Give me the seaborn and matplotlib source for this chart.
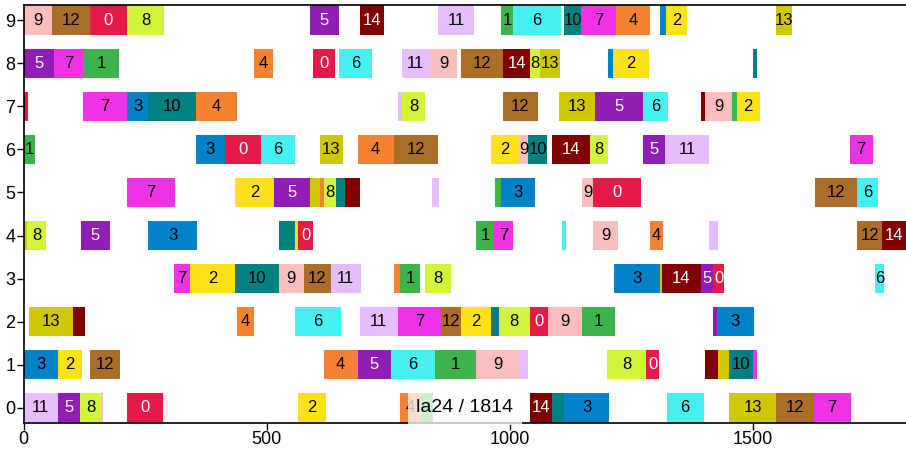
import matplotlib
matplotlib.use("Agg")
import matplotlib.pyplot as plt
import seaborn as sns
import pandas as pd

instance = "la24"
makespan = 1814

# couleurs des jobs 0..14
job_colors = ["#e6194b", "#3cb44b", "#ffe119", "#0082c8", "#f58231",
              "#911eb4", "#46f0f0", "#f032e6", "#d2f53c", "#fabebe",
              "#008080", "#e6beff", "#aa6e28", "#cfc700", "#800000"]
white_text_jobs = [0, 5, 14]

# (job, debut, fin) pour chaque machine
m0 = [(11, 0, 70), (5, 70, 116), (8, 116, 160), (9, 160, 164), (0, 213, 287),
      (2, 565, 622), (4, 773, 818), (1, 818, 841), (14, 1041, 1086), (10, 1086, 1111),
      (3, 1111, 1204), (6, 1322, 1398), (13, 1451, 1546), (12, 1546, 1624), (7, 1624, 1700)]
m1 = [(3, 0, 70), (2, 70, 121), (12, 137, 199), (4, 617, 687), (5, 687, 756),
      (6, 756, 845), (1, 845, 931), (9, 931, 1018), (11, 1018, 1038), (8, 1199, 1280),
      (0, 1280, 1306), (14, 1400, 1427), (13, 1427, 1451), (10, 1451, 1499), (7, 1499, 1507)]
m2 = [(13, 12, 102), (14, 102, 127), (4, 438, 474), (6, 559, 652), (11, 691, 769),
      (7, 769, 859), (12, 859, 900), (2, 900, 961), (10, 961, 977), (8, 977, 1041),
      (0, 1041, 1078), (9, 1078, 1148), (1, 1148, 1216), (5, 1418, 1425), (3, 1425, 1501)]
m3 = [(7, 309, 342), (2, 342, 435), (10, 435, 525), (9, 525, 576), (12, 576, 632),
      (11, 632, 693), (4, 761, 773), (1, 773, 816), (8, 826, 878), (3, 1213, 1308),
      (13, 1308, 1312), (14, 1312, 1392), (5, 1392, 1418), (0, 1418, 1440), (6, 1751, 1768)]
m4 = [(13, 0, 8), (8, 8, 47), (5, 118, 178), (3, 256, 357), (10, 525, 558),
      (2, 558, 564), (0, 564, 596), (1, 931, 968), (7, 968, 1007), (6, 1107, 1115),
      (9, 1171, 1223), (4, 1288, 1315), (11, 1409, 1427), (12, 1714, 1765), (14, 1765, 1814)]
m5 = [(7, 213, 312), (2, 435, 514), (5, 514, 588), (13, 588, 609), (4, 609, 617),
      (8, 617, 642), (10, 642, 660), (14, 660, 691), (11, 839, 855), (1, 969, 982),
      (3, 982, 1052), (9, 1148, 1171), (0, 1171, 1269), (12, 1626, 1714), (6, 1714, 1756)]
m6 = [(1, 0, 23), (3, 354, 414), (0, 414, 488), (6, 488, 559), (13, 609, 656),
      (4, 687, 761), (12, 761, 853), (2, 961, 1019), (9, 1019, 1038), (10, 1038, 1076),
      (14, 1086, 1165), (8, 1165, 1201), (5, 1274, 1319), (11, 1319, 1409), (7, 1698, 1746)]
m7 = [(0, 0, 9), (7, 123, 213), (3, 213, 256), (10, 256, 354), (4, 354, 438),
      (11, 769, 778), (8, 778, 826), (12, 985, 1058), (13, 1101, 1174), (5, 1174, 1274),
      (6, 1274, 1325), (14, 1392, 1400), (9, 1400, 1457), (1, 1457, 1466), (2, 1466, 1513)]
m8 = [(5, 0, 62), (7, 62, 123), (1, 123, 197), (4, 474, 513), (0, 596, 640),
      (6, 649, 717), (11, 778, 835), (9, 835, 892), (12, 900, 986), (14, 986, 1041),
      (8, 1041, 1062), (13, 1062, 1103), (3, 1201, 1212), (2, 1212, 1286), (10, 1499, 1508)]
m9 = [(9, 0, 59), (12, 59, 136), (0, 136, 213), (8, 213, 289), (5, 588, 649),
      (14, 691, 740), (11, 853, 927), (1, 982, 1007), (6, 1007, 1105), (10, 1111, 1146),
      (7, 1146, 1218), (4, 1218, 1288), (3, 1308, 1320), (2, 1320, 1364), (13, 1546, 1579)]

# (machine, job) sans etiquette
no_label = [(9, 3), (8, 3), (8, 10), (7, 0), (7, 11), (7, 14), (7, 1),
            (5, 13), (5, 4), (5, 10), (5, 14), (5, 11), (5, 1),
            (4, 13), (4, 10), (4, 2), (4, 6), (4, 11), (3, 4), (3, 13),
            (2, 14), (2, 10), (2, 5), (1, 11), (1, 14), (1, 13), (1, 7),
            (0, 9), (0, 10), (0, 1)]

machines = [m0, m1, m2, m3, m4, m5, m6, m7, m8, m9]
rows = []
for m, ops in enumerate(machines):
    for job, start, end in ops:
        rows.append({"machine": m, "job": job, "start": start, "end": end})
df = pd.DataFrame(rows)
df["dur"] = df["end"] - df["start"]

sns.set_theme(style="ticks")
plt.rcParams["font.family"] = ["Liberation Sans Narrow", "Liberation Sans", "DejaVu Sans"]

fig = plt.figure(figsize=(9.06, 4.5), dpi=100)
ax = fig.add_axes([23.5 / 906, 27 / 450, (906 - 23.5) / 906, 418 / 450])

ax.barh(df["machine"], df["dur"], left=df["start"], height=0.68,
        color=[job_colors[j] for j in df["job"]], linewidth=0)

for _, r in df.iterrows():
    if (r["machine"], r["job"]) in no_label:
        continue
    ax.text(r["start"] + r["dur"] / 2, r["machine"], str(r["job"]),
            ha="center", va="center", fontsize=12,
            color="white" if r["job"] in white_text_jobs else "black")

# titre de l'instance au milieu de la ligne 0
ax.text(makespan / 2, 0, f"{instance} / {makespan}", ha="center", va="center",
        fontsize=14, color="black", zorder=5,
        bbox=dict(boxstyle="square,pad=0.45", facecolor="white", alpha=0.75, edgecolor="none"))

ax.set_xlim(0, makespan)
ax.set_ylim(-0.35, 9.35)
ax.set_yticks(range(10))
ax.set_xticks([0, 500, 1000, 1500])
ax.tick_params(axis="both", labelsize=13, colors="black", length=5, width=1, pad=1)
for s in ["left", "bottom", "top"]:
    ax.spines[s].set_color("black")
    ax.spines[s].set_linewidth(1.2)
ax.spines["right"].set_visible(False)

fig.savefig("out.png", dpi=100)
